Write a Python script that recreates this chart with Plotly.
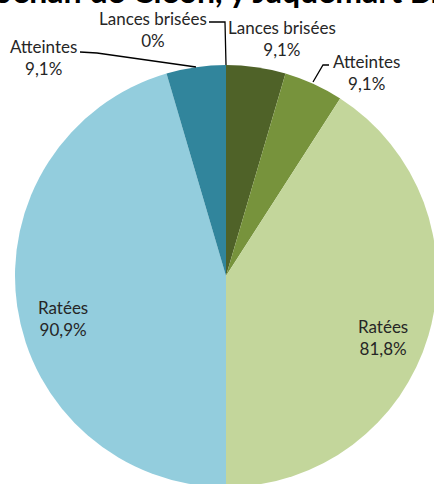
import plotly.graph_objects as go

# figure is a few px larger than the 434x484 window so the pie can run off the edges
W, H = 440, 490

# Issue of each run, per jouster (percent of runs)
categories = ["Lances brisées", "Atteintes", "Ratées"]
right_values = [9.1, 9.1, 81.8]   # right half of the pie (green)
left_values = [0, 9.1, 90.9]      # left half of the pie (blue)
title_text = "Jehan de Cleon, y Jaquemart Bra"

right_colors = ["#4F6228", "#77933C", "#C3D69B"]
left_colors = ["#31859C", "#31859C", "#93CDDD"]


def fmt(v):
    return (f"{v:.1f}".replace(".", ",") + "%") if v else "0%"


# clockwise from 12 o'clock: right half top->bottom, then left half bottom->top
labels = [f"{c} (D)" for c in categories] + [f"{c} (G)" for c in reversed(categories)]
values = right_values + left_values[::-1]
colors = right_colors + left_colors[::-1]

fig = go.Figure(go.Pie(
    labels=labels,
    values=values,
    textinfo="none",
    sort=False,
    direction="clockwise",
    rotation=0,
    marker=dict(colors=colors, line=dict(width=0)),
    domain=dict(x=[15 / W, 437 / W], y=[3 / H, 425 / H]),
    showlegend=False,
    hoverinfo="none",
))

# data labels (pixel positions of the label centres, as in the original chart)
label_pos = {
    ("D", 0): (282, 39), ("D", 1): (366, 72), ("D", 2): (383, 337),
    ("G", 0): (153, 30), ("G", 1): (43, 58), ("G", 2): (63, 318),
}
for side, vals in (("D", right_values), ("G", left_values)):
    for i, (c, v) in enumerate(zip(categories, vals)):
        px_x, px_y = label_pos[(side, i)]
        fig.add_annotation(
            text=f"{c}<br>{fmt(v)}",
            xref="paper", yref="paper", x=px_x / W, y=1 - px_y / H,
            xanchor="center", yanchor="middle", showarrow=False,
            font=dict(family="Lato", size=17, color="#262626"),
        )

# leader lines for the outside labels
leaders = [
    [(209, 22), (225, 22), (226, 65)],
    [(80, 52), (97, 53), (196, 67)],
    [(329, 65), (323, 65), (313, 82)],
]
for pts in leaders:
    path = "M " + " L ".join(f"{x / W},{1 - y / H}" for x, y in pts)
    fig.add_shape(type="path", path=path, xref="paper", yref="paper",
                  line=dict(color="#000000", width=1.3))

# title, cut off by the top edge in the original
fig.add_annotation(
    text=f"<b>{title_text}</b>",
    xref="paper", yref="paper", x=0, y=1, xanchor="left", yanchor="bottom",
    xshift=-3, yshift=-12, showarrow=False,
    font=dict(family="Lato", size=32, color="#000000"),
)

fig.update_layout(
    width=W,
    height=H,
    margin=dict(l=0, r=0, t=0, b=0),
    paper_bgcolor="white",
    plot_bgcolor="white",
)

fig.write_html(
    "out.html",
    config={"displayModeBar": False},
    post_script="document.body.style.margin='0';document.body.style.overflow='hidden';",
)
